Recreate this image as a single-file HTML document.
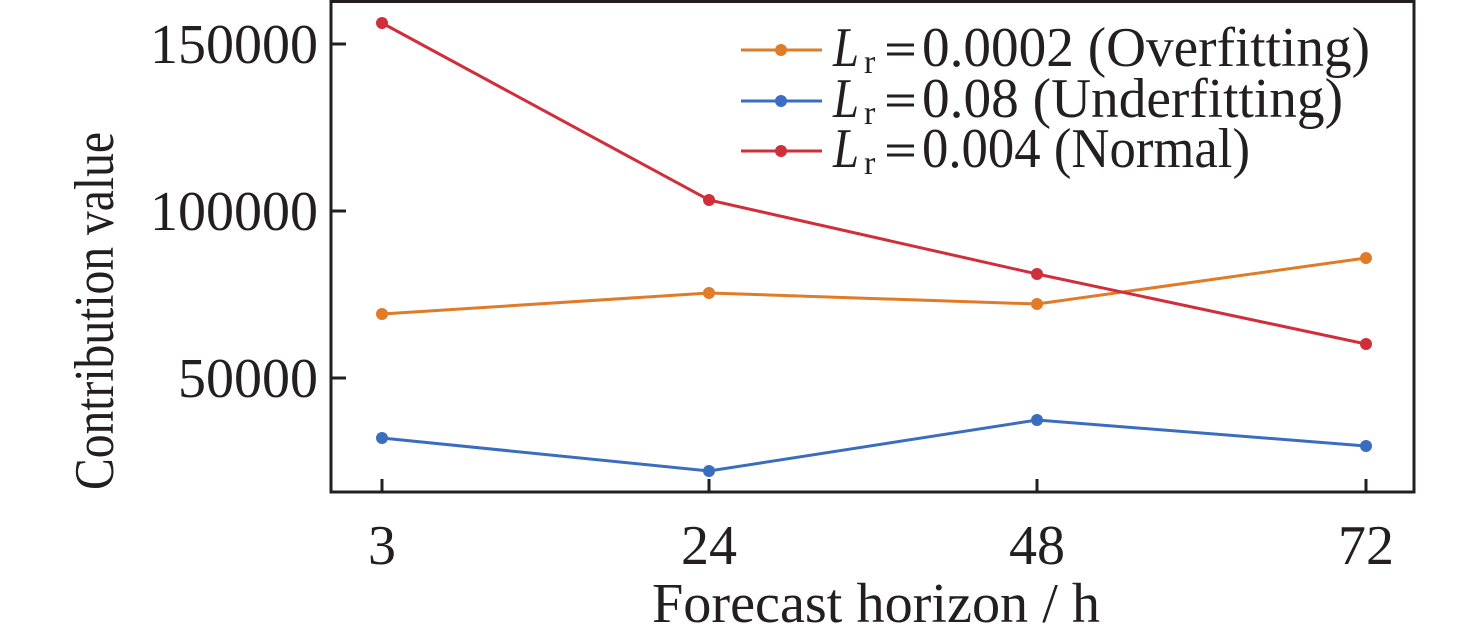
<!DOCTYPE html>
<html><head><meta charset="utf-8"><style>
html,body{margin:0;padding:0;background:#fff;}
svg{display:block;font-family:"Liberation Serif",serif;}
</style></head><body>
<svg width="1476" height="637" viewBox="0 0 1476 637" xmlns="http://www.w3.org/2000/svg">
<rect x="331" y="1.5" width="1083" height="490.5" fill="none" stroke="#231f20" stroke-width="3"/>
<g stroke="#231f20" stroke-width="3">
<line x1="331" y1="44" x2="346" y2="44"/><line x1="331" y1="211" x2="346" y2="211"/><line x1="331" y1="378" x2="346" y2="378"/>
<line x1="382" y1="492" x2="382" y2="479"/><line x1="709" y1="492" x2="709" y2="479"/><line x1="1037" y1="492" x2="1037" y2="479"/><line x1="1366" y1="492" x2="1366" y2="479"/>
</g>
<g font-size="56" fill="#231f20" text-anchor="end">
<text x="318" y="63">150000</text><text x="318" y="230">100000</text><text x="318" y="397">50000</text>
</g>
<g font-size="56" fill="#231f20" text-anchor="middle">
<text x="382" y="564">3</text><text x="709" y="564">24</text><text x="1037" y="564">48</text><text x="1366" y="564">72</text>
<text x="876" y="622" textLength="448" lengthAdjust="spacingAndGlyphs">Forecast horizon / h</text>
<text transform="translate(113,311) rotate(-90)" textLength="358" lengthAdjust="spacingAndGlyphs">Contribution value</text>
</g>
<g fill="none" stroke-width="3">
<polyline points="382,314 709,293 1037,304 1366,258" stroke="#e07b27"/>
<polyline points="382,438 709,471 1037,420 1366,446" stroke="#3a6dbf"/>
<polyline points="382,23 709,200 1037,274 1366,344" stroke="#d12e3c"/>
</g>
<g fill="#e07b27"><circle cx="382" cy="314" r="6"/><circle cx="709" cy="293" r="6"/><circle cx="1037" cy="304" r="6"/><circle cx="1366" cy="258" r="6"/></g>
<g fill="#3a6dbf"><circle cx="382" cy="438" r="6"/><circle cx="709" cy="471" r="6"/><circle cx="1037" cy="420" r="6"/><circle cx="1366" cy="446" r="6"/></g>
<g fill="#d12e3c"><circle cx="382" cy="23" r="6"/><circle cx="709" cy="200" r="6"/><circle cx="1037" cy="274" r="6"/><circle cx="1366" cy="344" r="6"/></g>
<g stroke-width="3">
<line x1="741" y1="50" x2="822" y2="50" stroke="#e07b27"/><circle cx="781" cy="50" r="6" fill="#e07b27"/>
<line x1="741" y1="101" x2="822" y2="101" stroke="#3a6dbf"/><circle cx="781" cy="101" r="6" fill="#3a6dbf"/>
<line x1="741" y1="151" x2="822" y2="151" stroke="#d12e3c"/><circle cx="781" cy="151" r="6" fill="#d12e3c"/>
</g>
<g font-size="56" fill="#231f20">
<text x="833" y="66" font-style="italic" textLength="26" lengthAdjust="spacingAndGlyphs">L</text><text x="864" y="73" font-size="34">r</text><text x="922" y="66" textLength="448" lengthAdjust="spacingAndGlyphs">0.0002 (Overfitting)</text>
<text x="833" y="117" font-style="italic" textLength="26" lengthAdjust="spacingAndGlyphs">L</text><text x="864" y="124" font-size="34">r</text><text x="922" y="117" textLength="421" lengthAdjust="spacingAndGlyphs">0.08 (Underfitting)</text>
<text x="833" y="167" font-style="italic" textLength="26" lengthAdjust="spacingAndGlyphs">L</text><text x="864" y="174" font-size="34">r</text><text x="922" y="167" textLength="328" lengthAdjust="spacingAndGlyphs">0.004 (Normal)</text>
</g>
<g stroke="#231f20" stroke-width="3">
<line x1="887" y1="45" x2="914" y2="45"/><line x1="887" y1="54" x2="914" y2="54"/>
<line x1="887" y1="96" x2="914" y2="96"/><line x1="887" y1="105" x2="914" y2="105"/>
<line x1="887" y1="146" x2="914" y2="146"/><line x1="887" y1="155" x2="914" y2="155"/>
</g>
</svg>
</body></html>
